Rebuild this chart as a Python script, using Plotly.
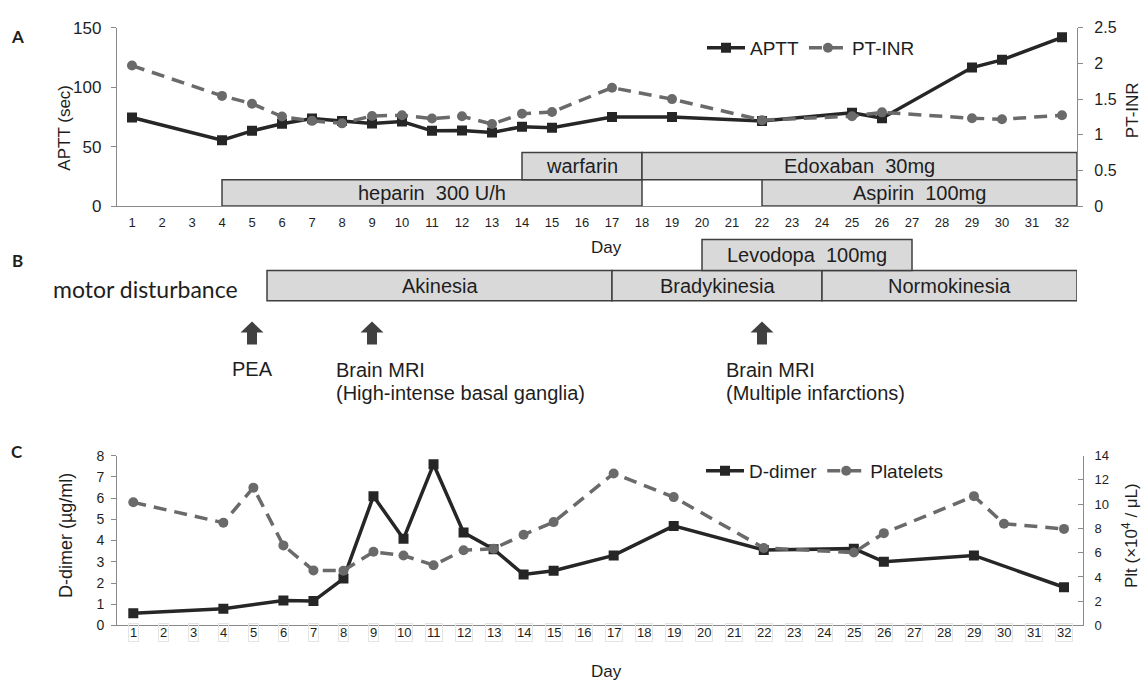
import plotly.graph_objects as go

W, H = 1142, 688

# ---------------- data ----------------
days = list(range(1, 33))
day_labels = [str(d) for d in days]

coag_days = [1, 4, 5, 6, 7, 8, 9, 10, 11, 12, 13, 14, 15, 17, 19, 22, 25, 26, 29, 30, 32]
aptt = [74.5, 55.4, 63.3, 69.3, 73.6, 71.5, 69.5, 71.2, 63.3, 63.5, 61.9, 66.8, 66.0,
        75.0, 75.0, 71.5, 78.5, 73.9, 116.5, 123.0, 142.0]
pt_inr = [1.97, 1.545, 1.436, 1.255, 1.195, 1.16, 1.264, 1.273, 1.227, 1.259, 1.15, 1.295,
          1.318, 1.66, 1.50, 1.205, 1.26, 1.314, 1.232, 1.218, 1.273]

ddimer_days = [1, 4, 6, 7, 8, 9, 10, 11, 12, 13, 14, 15, 17, 19, 22, 25, 26, 29, 32]
ddimer = [0.58, 0.79, 1.18, 1.15, 2.21, 6.09, 4.08, 7.59, 4.38, 3.59, 2.40, 2.58, 3.30,
          4.69, 3.55, 3.62, 3.00, 3.30, 1.80]

plt_days = [1, 4, 5, 6, 7, 8, 9, 10, 11, 12, 13, 14, 15, 17, 19, 22, 25, 26, 29, 30, 32]
platelets = [10.15, 8.47, 11.36, 6.6, 4.54, 4.52, 6.07, 5.77, 4.97, 6.2, 6.33, 7.48, 8.52,
             12.53, 10.58, 6.39, 6.01, 7.61, 10.66, 8.39, 7.96]

drug_names = ["heparin  300 U/h", "warfarin", "Edoxaban  30mg", "Aspirin  100mg"]
drug_start = [4, 14, 18, 22]
drug_end = [18, 18, 32.5, 32.5]
drug_row = [0, 1, 1, 0]

motor_names = ["Akinesia", "Bradykinesia", "Normokinesia"]
motor_start = [5.5, 17, 24]
motor_end = [17, 24, 32.5]

levo_names = ["Levodopa  100mg"]
levo_start = [20]
levo_end = [27]

event_days = [5, 9, 22]
event_labels = [["PEA"],
                ["Brain MRI", "(High-intense basal ganglia)"],
                ["Brain MRI", "(Multiple infarctions)"]]

# ---------------- styling helpers ----------------
def px(x):
    return x / W

def py(y):
    return 1 - y / H

FONT = "Liberation Sans, Arial, sans-serif"
CAL = "Lato, Carlito, Calibri, sans-serif"
DARK = "#262626"
GREY = "#6a6a6a"
AX = "#8a8a8a"
BOXF = "#d9d9d9"
BOXL = "#3f3f3f"
TXT = "#1e1e1e"

fig = go.Figure()

# Panel A
fig.add_trace(go.Scatter(x=coag_days, y=aptt, name="APTT", mode="lines+markers",
                         line=dict(color=DARK, width=3.5),
                         marker=dict(symbol="square", size=10, color=DARK),
                         xaxis="x", yaxis="y", legend="legend"))
fig.add_trace(go.Scatter(x=coag_days, y=pt_inr, name="PT-INR", mode="lines+markers",
                         line=dict(color=GREY, width=3.5, dash="13px,8px"),
                         marker=dict(symbol="circle", size=10, color=GREY),
                         xaxis="x", yaxis="y2", legend="legend"))
# Panel C
fig.add_trace(go.Scatter(x=ddimer_days, y=ddimer, name="D-dimer", mode="lines+markers",
                         line=dict(color=DARK, width=3.5),
                         marker=dict(symbol="square", size=10, color=DARK),
                         xaxis="x2", yaxis="y3", legend="legend2"))
fig.add_trace(go.Scatter(x=plt_days, y=platelets, name="Platelets", mode="lines+markers",
                         line=dict(color=GREY, width=3.5, dash="13px,8px"),
                         marker=dict(symbol="circle", size=10, color=GREY),
                         xaxis="x2", yaxis="y4", legend="legend2"))

shapes = []
annotations = []

# drug boxes in panel A (drawn on the PT-INR scale)
row_y = [(0, 0.37), (0.37, 0.75)]
for name, s, e, r in zip(drug_names, drug_start, drug_end, drug_row):
    y0, y1 = row_y[r]
    shapes.append(dict(type="rect", xref="x", yref="y2", x0=s, x1=e, y0=y0, y1=y1,
                       fillcolor=BOXF, line=dict(color=BOXL, width=1.5), layer="below"))
    annotations.append(dict(xref="x", yref="y2", x=(s + e) / 2, y=(y0 + y1) / 2,
                            text=name, showarrow=False,
                            font=dict(family=FONT, size=20, color=TXT)))

# panel B boxes
B_row = (py(300), py(269))
B_levo = (py(269), py(237))
for names, ss, ee, (y0, y1) in [(motor_names, motor_start, motor_end, B_row),
                                (levo_names, levo_start, levo_end, B_levo)]:
    for name, s, e in zip(names, ss, ee):
        shapes.append(dict(type="rect", xref="x", yref="paper", x0=s, x1=e, y0=y0, y1=y1,
                           fillcolor=BOXF, line=dict(color=BOXL, width=1.5)))
        annotations.append(dict(xref="x", yref="paper", x=(s + e) / 2, y=(y0 + y1) / 2,
                                text=name, showarrow=False,
                                font=dict(family=FONT, size=20, color=TXT)))

# event arrows (block arrows, sized in pixels, anchored at the event day)
ARROW = "M-5,0 L5,0 L5,12 L11.5,12 L0,23 L-11.5,12 L-5,12 Z"
for d, lines in zip(event_days, event_labels):
    shapes.append(dict(type="path", xref="x", yref="paper", xsizemode="pixel",
                       ysizemode="pixel", xanchor=d, yanchor=py(345), path=ARROW,
                       fillcolor="#404040", line=dict(width=0)))
    if len(lines) == 1:
        annotations.append(dict(xref="x", yref="paper", x=d, y=py(370), text=lines[0],
                                showarrow=False, xanchor="center", yanchor="middle",
                                font=dict(family=FONT, size=20, color=TXT)))
    else:
        for k, line in enumerate(lines):
            annotations.append(dict(xref="x", yref="paper", x=d, y=py(371 + 24 * k),
                                    text=line, showarrow=False, xanchor="left",
                                    yanchor="middle", xshift=-38,
                                    font=dict(family=FONT, size=20, color=TXT)))

# boxed tick labels of panel C
for d, lab in zip(days, day_labels):
    annotations.append(dict(xref="x2", yref="paper", x=d, y=py(651), text=lab,
                            showarrow=False, bordercolor="#e4e4e4", borderwidth=1,
                            borderpad=1, font=dict(family=FONT, size=13, color=TXT)))

# titles / labels
def txt(x, y, t, size, angle=0, family=FONT, bold=False, anchor="center"):
    annotations.append(dict(xref="paper", yref="paper", x=px(x), y=py(y), text=t,
                            showarrow=False, textangle=angle, xanchor=anchor,
                            yanchor="middle",
                            font=dict(family=family, size=size, color=TXT,
                                      weight="bold" if bold else "normal")))

txt(65, 122, "APTT (sec)", 17, -90)
txt(1132, 104, "PT-INR", 17, -90)
txt(66, 542, "D-dimer (µg/ml)", 18, -90)
txt(1130, 542, "Plt (×10<sup>4</sup> / μL)", 17, -90)
txt(606, 245, "Day", 17)
txt(606, 681, "Day", 17)
txt(17.5, 28, "A", 17, family=CAL, bold=True)
txt(17, 259, "B", 17, family=CAL, bold=True)
txt(17, 455, "C", 17, family=CAL, bold=True)
txt(51, 288, "motor disturbance", 23, family=CAL, anchor="left")

axis_common = dict(showgrid=False, zeroline=False, showline=True, linecolor=AX,
                   linewidth=1.3, tickfont=dict(family=FONT, color=TXT))

fig.update_layout(
    width=W, height=H,
    margin=dict(l=0, r=0, t=0, b=0),
    paper_bgcolor="white", plot_bgcolor="white",
    xaxis=dict(axis_common, domain=[px(117), px(1077)], range=[0.5, 32.5],
               tickvals=days, ticktext=day_labels, ticks="", anchor="y",
               tickfont=dict(family=FONT, size=13, color=TXT), ticklabelstandoff=4),
    yaxis=dict(axis_common, domain=[py(202.7), py(19.3)], range=[0, 150], dtick=50,
               ticks="outside", ticklen=5, tickcolor=AX, anchor="x",
               tickfont=dict(family=FONT, size=17, color=TXT), ticklabelstandoff=6),
    yaxis2=dict(axis_common, overlaying="y", side="right", range=[0, 2.5], dtick=0.5,
                ticks="outside", ticklen=5, tickcolor=AX, anchor="x",
                tickfont=dict(family=FONT, size=16, color=TXT), ticklabelstandoff=8),
    xaxis2=dict(axis_common, domain=[px(117.3), px(1082.7)], range=[0.467, 32.623],
                tickvals=days, showticklabels=False, ticks="", anchor="y3"),
    yaxis3=dict(axis_common, domain=[py(634), py(459.3)], range=[0, 8], dtick=1,
                ticks="outside", ticklen=5, tickcolor=AX, anchor="x2",
                tickfont=dict(family=FONT, size=14, color=TXT), ticklabelstandoff=4),
    yaxis4=dict(axis_common, overlaying="y3", side="right", range=[0, 14], dtick=2,
                ticks="inside", ticklen=5, tickcolor=AX, anchor="x2",
                tickfont=dict(family=FONT, size=13, color=TXT), ticklabelstandoff=8),
    legend=dict(x=px(702), y=py(40), xanchor="left", yanchor="middle",
                orientation="h", font=dict(family=FONT, size=19, color=TXT),
                bgcolor="rgba(0,0,0,0)", itemwidth=38),
    legend2=dict(x=px(701), y=py(475), xanchor="left", yanchor="middle",
                 orientation="h", font=dict(family=FONT, size=19, color=TXT),
                 bgcolor="rgba(0,0,0,0)", itemwidth=38),
    shapes=shapes,
    annotations=annotations,
    showlegend=True,
)

fig.write_html("out.html", config={"displayModeBar": False},
               post_script="document.body.style.margin='0px';document.body.style.padding='0px';")
